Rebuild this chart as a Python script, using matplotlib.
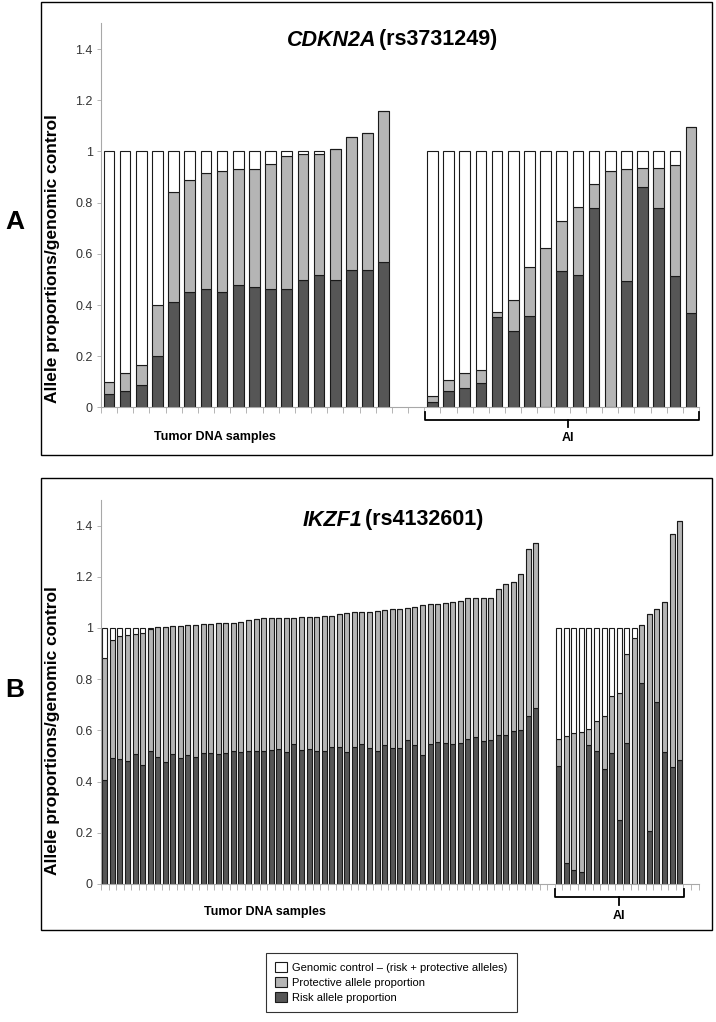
import numpy as np
import matplotlib
matplotlib.use('Agg')
import matplotlib.pyplot as plt
from matplotlib.patches import Rectangle, Patch
from matplotlib.lines import Line2D

plt.rcParams['font.family'] = ['Liberation Sans', 'DejaVu Sans']

# Panel A: CDKN2A (rs3731249) - risk allele proportion and risk + protective total
a_left_risk = [0.053, 0.065, 0.086, 0.200, 0.412, 0.452, 0.464, 0.452, 0.477,
               0.471, 0.462, 0.462, 0.499, 0.518, 0.497, 0.536, 0.538, 0.568]
a_left_total = [0.101, 0.133, 0.165, 0.400, 0.843, 0.888, 0.915, 0.925, 0.930,
                0.932, 0.951, 0.984, 0.990, 0.992, 1.009, 1.057, 1.072, 1.157]
a_ai_risk = [0.021, 0.064, 0.077, 0.095, 0.354, 0.300, 0.358, 0.0, 0.532,
             0.516, 0.778, 0.0, 0.495, 0.863, 0.778, 0.515, 0.369]
a_ai_total = [0.044, 0.107, 0.133, 0.146, 0.372, 0.419, 0.549, 0.623, 0.730,
              0.785, 0.874, 0.922, 0.930, 0.934, 0.935, 0.947, 1.095]

# Panel B: IKZF1 (rs4132601)
b_left_risk = [0.408, 0.491, 0.490, 0.480, 0.507, 0.463, 0.521, 0.498, 0.476, 0.507,
               0.494, 0.503, 0.498, 0.512, 0.511, 0.508, 0.512, 0.521, 0.514, 0.521,
               0.521, 0.519, 0.523, 0.528, 0.515, 0.547, 0.523, 0.528, 0.520, 0.520,
               0.534, 0.534, 0.516, 0.534, 0.547, 0.533, 0.520, 0.542, 0.530, 0.533,
               0.562, 0.542, 0.505, 0.546, 0.555, 0.550, 0.546, 0.551, 0.568, 0.573,
               0.558, 0.562, 0.582, 0.583, 0.596, 0.601, 0.657, 0.689]
b_left_total = [0.884, 0.954, 0.970, 0.973, 0.975, 0.979, 0.997, 1.004, 1.004, 1.008,
                1.008, 1.012, 1.012, 1.014, 1.017, 1.018, 1.018, 1.021, 1.022, 1.032,
                1.035, 1.039, 1.039, 1.040, 1.040, 1.040, 1.043, 1.044, 1.044, 1.046,
                1.046, 1.056, 1.059, 1.061, 1.064, 1.064, 1.066, 1.072, 1.074, 1.075,
                1.079, 1.081, 1.090, 1.095, 1.095, 1.099, 1.103, 1.105, 1.116, 1.116,
                1.118, 1.118, 1.152, 1.172, 1.178, 1.212, 1.309, 1.333]
b_ai_risk = [0.459, 0.081, 0.055, 0.046, 0.542, 0.521, 0.449, 0.510, 0.250,
             0.551, 0.0, 0.787, 0.207, 0.711, 0.516, 0.456, 0.484]
b_ai_total = [0.568, 0.577, 0.589, 0.593, 0.607, 0.638, 0.658, 0.733, 0.745,
              0.900, 0.962, 1.013, 1.056, 1.075, 1.101, 1.367, 1.418]

ytick_vals = [0, 0.2, 0.4, 0.6, 0.8, 1.0, 1.2, 1.4]
ytick_labels = ['0', '0.2', '0.4', '0.6', '0.8', '1', '1.2', '1.4']
legend_labels = ['Genomic control \u2013 (risk + protective alleles)',
                 'Protective allele proportion', 'Risk allele proportion']

DARK = '#565656'
GRAY = '#b5b5b5'
EDGE = '#1a1a1a'
AXC = '#a8a8a8'

W, H = 716, 1022
fig = plt.figure(figsize=(W / 100, H / 100), dpi=100)


def fx(x):
    return x / W


def fy(y):
    return 1 - y / H


def stacked(ax, start, risk, total):
    risk = np.array(risk)
    total = np.array(total)
    x = start + np.arange(len(risk))
    prot = total - risk
    ctrl = np.clip(1 - total, 0, None)
    kw = dict(width=0.66, edgecolor=EDGE, linewidth=0.8)
    ax.bar(x, risk, color=DARK, **kw)
    ax.bar(x, prot, bottom=risk, color=GRAY, **kw)
    ax.bar(x, ctrl, bottom=total, color='white', **kw)


def style(ax, ncat):
    ax.set_xlim(-0.5, ncat - 0.5)
    ax.set_ylim(0, 1.5)
    ax.set_xticks(np.arange(-0.5, ncat, 1))
    ax.set_xticklabels([])
    ax.set_yticks(ytick_vals)
    ax.set_yticklabels(ytick_labels)
    for s in ['top', 'right']:
        ax.spines[s].set_visible(False)
    for s in ['left', 'bottom']:
        ax.spines[s].set_color(AXC)
        ax.spines[s].set_linewidth(0.8)
    ax.tick_params(axis='x', length=4, color=AXC, width=0.6)
    ax.tick_params(axis='y', length=3, color=AXC, width=0.6, labelsize=9,
                   labelcolor='#333333', pad=3)


def title(cx, cy, ital, rest, size=15.5):
    r = fig.canvas.get_renderer()
    t1 = fig.text(0, fy(cy), ital, fontsize=size, fontweight='bold',
                  style='italic', va='center', ha='left')
    t2 = fig.text(0, fy(cy), rest, fontsize=size, fontweight='bold',
                  va='center', ha='left')
    w1 = t1.get_window_extent(r).width - 3
    w2 = t2.get_window_extent(r).width
    x0 = cx - (w1 + w2) / 2
    t1.set_x(fx(x0))
    t2.set_x(fx(x0 + w1))


def bracket(x0, x1, xc, y, up, down):
    kw = dict(color='black', linewidth=1.3, transform=fig.transFigure)
    fig.add_artist(Line2D([fx(x0), fx(x0), fx(x1), fx(x1)],
                          [fy(up), fy(y), fy(y), fy(up)], **kw))
    fig.add_artist(Line2D([fx(xc), fx(xc)], [fy(y), fy(down)], **kw))


# panel frames
fig.add_artist(Rectangle((fx(40.7), fy(455)), (712 - 40.7) / W, 453 / H,
                         transform=fig.transFigure, fill=False,
                         edgecolor='black', linewidth=1.0))
fig.add_artist(Rectangle((fx(40.7), fy(930)), (712 - 40.7) / W, 452 / H,
                         transform=fig.transFigure, fill=False,
                         edgecolor='black', linewidth=1.0))

# Panel A
axA = fig.add_axes([fx(100.9), fy(407.5), (699.1 - 100.9) / W, 384 / H])
stacked(axA, 0, a_left_risk, a_left_total)
stacked(axA, 20, a_ai_risk, a_ai_total)
style(axA, 37)

# Panel B
axB = fig.add_axes([fx(101.0), fy(884), (698.6 - 101.0) / W, 384 / H])
stacked(axB, 0, b_left_risk, b_left_total)
stacked(axB, 60, b_ai_risk, b_ai_total)
style(axB, 79)

title(392, 40, 'CDKN2A', ' (rs3731249)')
title(393, 520, 'IKZF1', ' (rs4132601)')

for cy in (259, 731):
    fig.text(fx(53), fy(cy), 'Allele proportions/genomic control', rotation=90,
             fontsize=12.5, fontweight='bold', ha='center', va='center')

fig.text(fx(15), fy(222), 'A', fontsize=19, fontweight='bold', ha='center', va='center')
fig.text(fx(15), fy(690), 'B', fontsize=19, fontweight='bold', ha='center', va='center')

fig.text(fx(215), fy(437), 'Tumor DNA samples', fontsize=9, fontweight='bold',
         ha='center', va='center')
fig.text(fx(568), fy(438), 'AI', fontsize=9, fontweight='bold', ha='center', va='center')
bracket(425, 699, 568, 420, 412, 427)

fig.text(fx(265), fy(912), 'Tumor DNA samples', fontsize=9, fontweight='bold',
         ha='center', va='center')
fig.text(fx(619), fy(916), 'AI', fontsize=9, fontweight='bold', ha='center', va='center')
bracket(555, 684, 619, 897, 889, 905)

handles = [Patch(facecolor=c, edgecolor=EDGE, linewidth=0.8) for c in ('white', GRAY, DARK)]
leg = fig.legend(handles, legend_labels, loc='upper left',
                 bbox_to_anchor=(fx(266), fy(953)), fontsize=8, frameon=True,
                 fancybox=False, edgecolor='black', handlelength=1.0,
                 handleheight=1.0, handletextpad=0.5, labelspacing=0.35,
                 borderpad=0.85, borderaxespad=0)
leg.get_frame().set_linewidth(0.8)

fig.savefig('out.png', dpi=100)
